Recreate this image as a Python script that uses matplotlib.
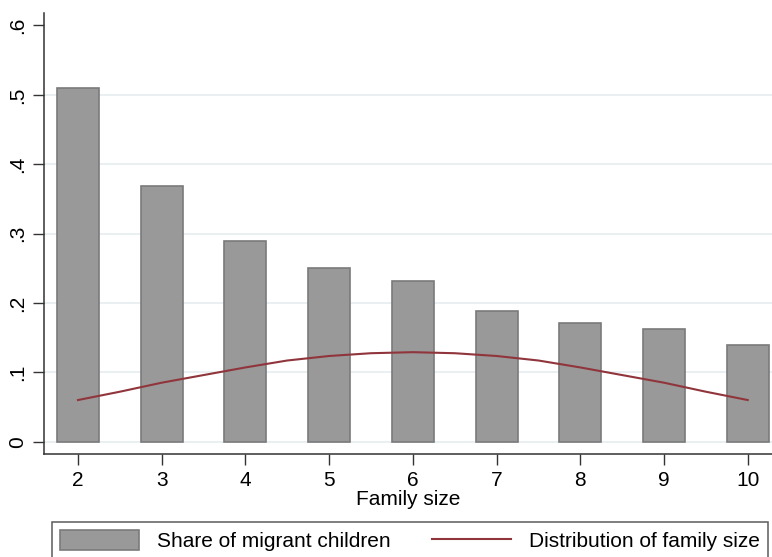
import numpy as np
import matplotlib
matplotlib.use("Agg")
import matplotlib.pyplot as plt

# values
family_size = [2, 3, 4, 5, 6, 7, 8, 9, 10]
share_migrant = [0.510, 0.368, 0.289, 0.250, 0.231, 0.188, 0.171, 0.162, 0.139]

dist_x = [2, 2.5, 3, 3.5, 4, 4.5, 5, 5.5, 6, 6.5, 7, 7.5, 8, 8.5, 9, 9.5, 10]
dist_y = [0.060, 0.072, 0.085, 0.096, 0.107, 0.117, 0.1235, 0.1275, 0.129,
          0.1275, 0.1235, 0.117, 0.107, 0.096, 0.085, 0.072, 0.060]

ytick_vals = [0, 0.1, 0.2, 0.3, 0.4, 0.5, 0.6]
ytick_labels = ["0", ".1", ".2", ".3", ".4", ".5", ".6"]

plt.rcParams['font.family'] = ['Liberation Sans', 'DejaVu Sans']

fig = plt.figure(figsize=(7.72, 5.57), dpi=100)
ax = fig.add_axes([44 / 772, 1 - 454 / 557, 1 - 44 / 772, (454 - 13) / 557])

bars = ax.bar(family_size, share_migrant, width=0.5, color="#999999",
              edgecolor="#7a7a7a", linewidth=1.2, zorder=2,
              label="Share of migrant children")
line, = ax.plot(dist_x, dist_y, color="#90353B", linewidth=1.5, zorder=3,
                label="Distribution of family size")

ax.set_xlim(1.594, 10.29)
ax.set_ylim(-0.0178, 0.618)
ax.set_xticks(family_size)
ax.set_yticks(ytick_vals)
ax.set_yticklabels(ytick_labels, rotation=90, va="center")
ax.tick_params(axis="both", labelsize=15, length=8, width=1, color="#333333")
ax.tick_params(axis="y", pad=4)
ax.tick_params(axis="x", pad=4)

ax.grid(axis="y", color="#E6EEF0", linewidth=1.2, zorder=0)
ax.yaxis.get_gridlines()[-1].set_visible(False)
ax.set_axisbelow(True)

for s in ["top", "right"]:
    ax.spines[s].set_visible(False)
for s in ["left", "bottom"]:
    ax.spines[s].set_color("#333333")
    ax.spines[s].set_linewidth(1.1)

ax.set_xlabel("Family size", fontsize=15, labelpad=0)

leg = fig.legend(handles=[bars, line], loc="upper left",
                 bbox_to_anchor=(51.7 / 772, 1 - 521.7 / 557), ncol=2,
                 fontsize=15, frameon=True, fancybox=False, handlelength=3.8,
                 handleheight=1.1, handletextpad=0.85, columnspacing=2.0,
                 borderpad=0.4, borderaxespad=0)
leg.get_frame().set_edgecolor("#333333")
leg.get_frame().set_linewidth(1.1)

fig.savefig("out.png", dpi=100)
